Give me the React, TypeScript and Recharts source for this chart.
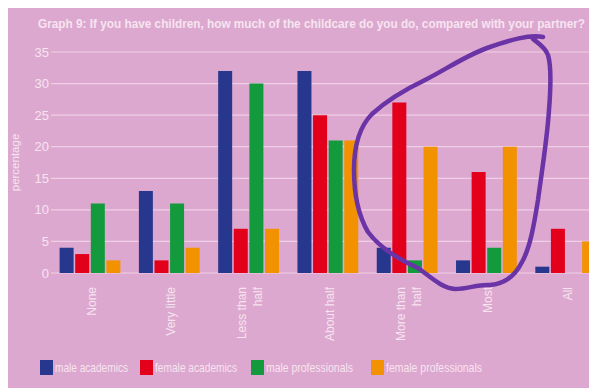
import { BarChart, Bar, XAxis, YAxis, CartesianGrid } from "recharts";

const categories = ["None", "Very little", "Less than half", "About half", "More than half", "Most", "All"];
const tickLines = [["None"], ["Very little"], ["Less than", "half"], ["About half"], ["More than", "half"], ["Most"], ["All"]];
const maleAcademics = [4, 13, 32, 32, 4, 2, 1];
const femaleAcademics = [3, 2, 7, 25, 27, 16, 7];
const maleProfessionals = [11, 11, 30, 21, 2, 4, 0];
const femaleProfessionals = [2, 4, 7, 21, 20, 20, 5];
const yTicks = [0, 5, 10, 15, 20, 25, 30, 35];

const title = "Graph 9: If you have children, how much of the childcare do you do, compared with your partner?";

const series = [
  { key: "maleAcademics", name: "male academics", color: "#27378d" },
  { key: "femaleAcademics", name: "female academics", color: "#e2001a" },
  { key: "maleProfessionals", name: "male professionals", color: "#129a3c" },
  { key: "femaleProfessionals", name: "female professionals", color: "#f29200" },
];

// legend layout in the scan: swatch x and squeezed text widths
const legendX = [32, 132, 243, 363];
const legendTextW = [73, 82, 87, 96];

const data = categories.map((cat, i) => ({
  cat,
  maleAcademics: maleAcademics[i],
  femaleAcademics: femaleAcademics[i],
  maleProfessionals: maleProfessionals[i],
  femaleProfessionals: femaleProfessionals[i],
}));

// hand-drawn marker on the original scan (page coords)
const scribble =
  "M543 37 C530 34 510 40 487 48 C465 56 445 70 425 80 C400 92 385 102 372 114 C360 126 354 145 354 170 C354 195 358 215 368 232 C380 248 400 260 418 268 C432 278 442 288 455 289 C468 289 478 284 490 285 C505 284 515 276 522 262 C530 248 534 225 538 200 C542 170 547 140 549 110 C551 85 551 65 548 55 C545 47 538 43 533 39";

const textColor = "#f6e4f0";
const sans = "'Liberation Sans', Arial, sans-serif";
const squeeze = 0.85;

function XTick({ x, y, payload, index }: any) {
  const lines = tickLines[index] ?? [payload.value];
  const spacing = 16;
  return (
    <g>
      {lines.map((t: string, i: number) => {
        const lx = x + 1 + (i - (lines.length - 1) / 2) * spacing;
        const ly = y + 12;
        return (
          <text
            key={i}
            x={lx}
            y={ly}
            dy="0.35em"
            textAnchor="end"
            transform={`rotate(-90, ${lx}, ${ly})`}
            fill={textColor}
            fontSize={12}
            fontFamily={sans}
          >
            {t}
          </text>
        );
      })}
    </g>
  );
}

export default function App() {
  return (
    <div
      style={{
        position: "relative",
        marginTop: -3,
        width: 589,
        height: 383,
        overflow: "hidden",
        background: "#dda8cf",
      }}
    >
      <BarChart
        width={620}
        height={383}
        data={data}
        margin={{ top: 47, right: 22, left: 0, bottom: 35 }}
        barCategoryGap={8.6}
        barGap={1.6}
      >
        <CartesianGrid vertical={false} stroke="#efcfe5" strokeWidth={1.2} />
        <XAxis
          dataKey="cat"
          interval={0}
          axisLine={false}
          tickLine={false}
          tickSize={0}
          height={80}
          tick={<XTick />}
        />
        <YAxis
          width={43}
          domain={[0, 35]}
          ticks={yTicks}
          axisLine={false}
          tickLine={false}
          tickSize={0}
          tickMargin={2}
          tick={{ fill: textColor, fontSize: 13, fontFamily: sans }}
          label={{
            value: "percentage",
            angle: -90,
            position: "insideLeft",
            offset: 7,
            fill: textColor,
            fontSize: 11.5,
            fontFamily: sans,
            style: { textAnchor: "middle" },
          }}
        />
        {series.map((s) => (
          <Bar key={s.key} dataKey={s.key} name={s.name} fill={s.color} isAnimationActive={false} />
        ))}
      </BarChart>
      <svg
        width={589}
        height={383}
        style={{ position: "absolute", left: 0, top: 0, pointerEvents: "none" }}
      >
        <g transform={`translate(30,23) scale(${squeeze},1)`}>
          <text
            x={0}
            y={0}
            textLength={547 / squeeze}
            lengthAdjust="spacingAndGlyphs"
            fill={textColor}
            fontFamily={sans}
            fontWeight="bold"
            fontSize={12.5}
          >
            {title}
          </text>
        </g>
        {series.map((s, i) => (
          <g key={s.key}>
            <rect x={legendX[i]} y={355} width={13} height={15} fill={s.color} />
            <g transform={`translate(${legendX[i] + 15},367) scale(${squeeze},1)`}>
              <text
                x={0}
                y={0}
                textLength={legendTextW[i] / squeeze}
                lengthAdjust="spacingAndGlyphs"
                fill={textColor}
                fontFamily={sans}
                fontSize={13}
              >
                {s.name}
              </text>
            </g>
          </g>
        ))}
        <path
          d={scribble}
          transform="translate(-8,-5)"
          fill="none"
          stroke="#6a33a6"
          strokeWidth={4.5}
          strokeLinecap="round"
          strokeLinejoin="round"
        />
      </svg>
    </div>
  );
}
